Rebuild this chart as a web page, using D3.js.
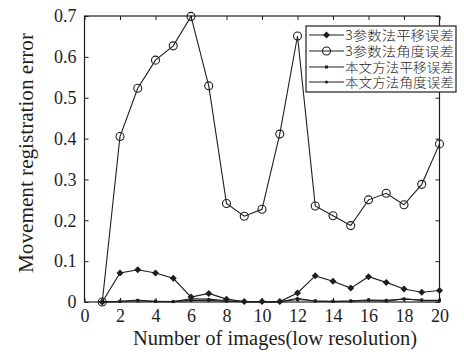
<!DOCTYPE html>
<html><head><meta charset="utf-8">
<script src="https://cdn.jsdelivr.net/npm/d3@7"></script>
<style>body{margin:0;background:#fff}svg{display:block}</style>
</head><body>
<svg id="c" width="464" height="355"></svg>
<script>
const images = [1,2,3,4,5,6,7,8,9,10,11,12,13,14,15,16,17,18,19,20];
const seriesNames = ["3参数法平移误差","3参数法角度误差","本文方法平移误差","本文方法角度误差"];
const s3pTrans = [0,0.071,0.079,0.071,0.058,0.012,0.021,0.007,0.001,0.001,0.001,0.022,0.064,0.051,0.034,0.062,0.048,0.032,0.024,0.028];
const s3pAngle = [0,0.405,0.523,0.592,0.627,0.699,0.529,0.241,0.210,0.227,0.411,0.651,0.235,0.211,0.187,0.250,0.266,0.238,0.288,0.387];
const oursTrans = [0,0.002,0.003,0.002,0.001,0.004,0.004,0.002,0.001,0.001,0.001,0.006,0.003,0.002,0.003,0.005,0.004,0.007,0.005,0.004];
const oursAngle = [0,0.001,0.005,0.001,0.001,0.008,0.007,0.003,0.001,0,0,0.009,0.002,0.001,0.002,0.004,0.002,0.008,0.004,0.003];
const xTicks = [0,2,4,6,8,10,12,14,16,18,20];
const yTicks = [0,0.1,0.2,0.3,0.4,0.5,0.6,0.7];
const xLabel = "Number of images(low resolution)";
const yLabel = "Movement registration error";

const ink = "#1e1e1e";
const svg = d3.select("#c");
const x = d3.scaleLinear().domain([0,20]).range([84.5,439.5]);
const y = d3.scaleLinear().domain([0,0.7]).range([302,16]);
const serif = "'Liberation Serif','Times New Roman',serif";

function styleAxis(g){
  g.select(".domain").remove();
  g.selectAll("line").attr("stroke",ink).attr("stroke-width",1);
  g.selectAll("text").attr("fill",ink).style("font-family",serif).style("font-size","18px");
}
svg.append("g").attr("transform","translate(0,302)")
  .call(d3.axisBottom(x).tickValues(xTicks).tickSize(-4).tickPadding(7).tickFormat(d3.format("d"))).call(styleAxis);
svg.append("g").attr("transform","translate(0,16)")
  .call(d3.axisTop(x).tickValues(xTicks).tickSize(-4).tickFormat("")).call(styleAxis);
svg.append("g").attr("transform","translate(84.5,0)")
  .call(d3.axisLeft(y).tickValues(yTicks).tickSize(-4).tickPadding(8).tickFormat(d=>d===0?"0":d3.format(".1f")(d))).call(styleAxis);
svg.append("g").attr("transform","translate(439.5,0)")
  .call(d3.axisRight(y).tickValues(yTicks).tickSize(-4).tickFormat("")).call(styleAxis);
svg.append("rect").attr("x",84.5).attr("y",16).attr("width",355).attr("height",286)
  .attr("fill","none").attr("stroke",ink).attr("stroke-width",1.2);

const line = d3.line().x((d,i)=>x(images[i])).y(d=>y(d));
const series = [
  {v:s3pTrans, m:"diamond"},
  {v:s3pAngle, m:"circle"},
  {v:oursTrans, m:"square"},
  {v:oursAngle, m:"dot"}
];
function marker(g, type, cx, cy){
  if(type==="diamond"){
    g.append("path").attr("d",`M${cx},${cy-3.5}L${cx+3.5},${cy}L${cx},${cy+3.5}L${cx-3.5},${cy}Z`).attr("fill",ink);
  } else if(type==="circle"){
    g.append("circle").attr("cx",cx).attr("cy",cy).attr("r",4).attr("fill","none").attr("stroke",ink).attr("stroke-width",1.1);
  } else if(type==="square"){
    g.append("rect").attr("x",cx-1.5).attr("y",cy-1.5).attr("width",3).attr("height",3).attr("fill",ink);
  } else {
    g.append("circle").attr("cx",cx).attr("cy",cy).attr("r",1.5).attr("fill",ink);
  }
}
const plot = svg.append("g");
series.slice().reverse().forEach(s=>{
  plot.append("path").attr("d",line(s.v)).attr("fill","none").attr("stroke",ink).attr("stroke-width",1.1);
  s.v.forEach((d,i)=>marker(plot,s.m,x(images[i]),y(d)));
});

// legend
const lg = svg.append("g");
lg.append("rect").attr("x",306).attr("y",26).attr("width",150).attr("height",66)
  .attr("fill","#fff").attr("stroke",ink).attr("stroke-width",1.2);
const rowY = [35,51,67,82];
seriesNames.forEach((n,i)=>{
  lg.append("line").attr("x1",309).attr("x2",344).attr("y1",rowY[i]).attr("y2",rowY[i]).attr("stroke",ink).attr("stroke-width",1.1);
  marker(lg,series[i].m,326.5,rowY[i]);
  lg.append("text").attr("x",345).attr("y",rowY[i]).attr("dy","0.36em")
    .attr("textLength",109).attr("lengthAdjust","spacingAndGlyphs")
    .style("font-family","'Noto Sans CJK SC',sans-serif").style("font-size","13px").style("font-weight","300")
    .attr("fill",ink).text(n);
});

svg.append("text").attr("x",275).attr("y",345).attr("text-anchor","middle")
  .attr("textLength",284).attr("lengthAdjust","spacingAndGlyphs")
  .style("font-family",serif).style("font-size","20px").attr("fill",ink).text(xLabel);
svg.append("text").attr("transform","translate(33,153) rotate(-90)").attr("text-anchor","middle")
  .attr("textLength",240).attr("lengthAdjust","spacingAndGlyphs")
  .style("font-family",serif).style("font-size","20px").attr("fill",ink).text(yLabel);
</script>
</body></html>
